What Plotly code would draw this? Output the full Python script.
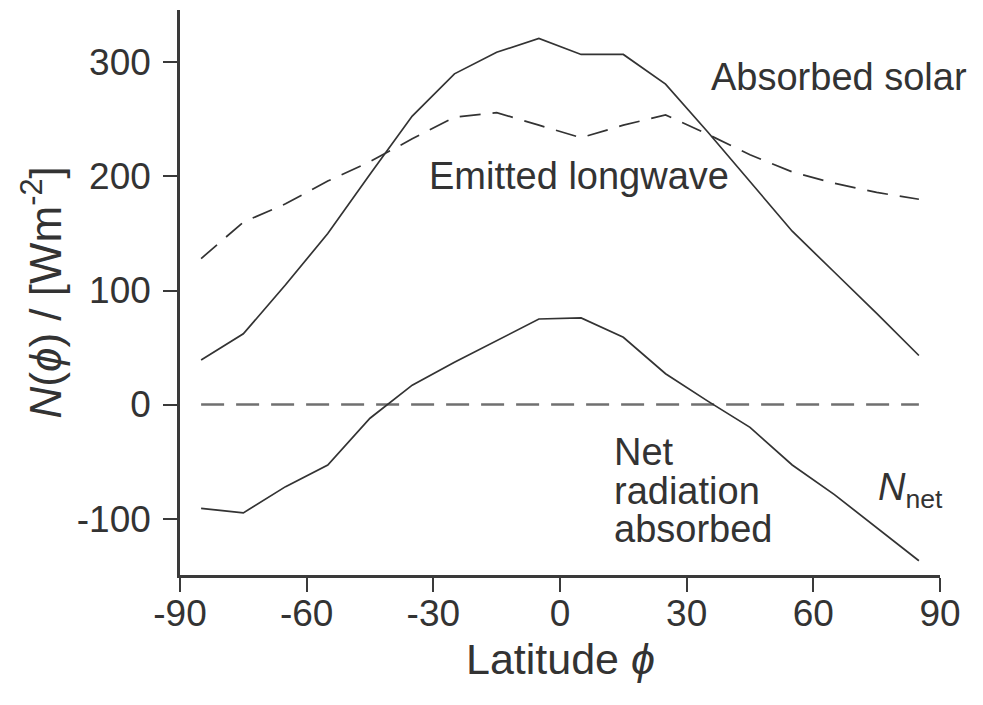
import plotly.graph_objects as go

# Latitude band centres (degrees)
latitude = [-85, -75, -65, -55, -45, -35, -25, -15, -5, 5, 15, 25, 35, 45, 55, 65, 75, 85]

# Absorbed solar radiation (W m^-2)
absorbed_solar = [39, 62, 105, 150, 202, 253, 290, 309, 321, 307, 307, 281, 239, 196, 152, 116, 80, 43]

# Emitted longwave radiation (W m^-2)
emitted_longwave = [128, 160, 176, 196, 213, 233, 252, 256, 245, 234, 245, 254, 237, 219, 204, 194, 186, 180]

# Net radiation absorbed (W m^-2)
net_radiation = [-91, -95, -72, -53, -12, 17, 37, 56, 75, 76, 59, 27, 3, -20, -53, -79, -108, -137]

# Zero reference line
zero_lat = [-85, 85]
zero_val = [0, 0]

x_tickvals = [-90, -60, -30, 0, 30, 60, 90]
x_ticktext = ["-90", "-60", "-30", "0", "30", "60", "90"]
y_tickvals = [-100, 0, 100, 200, 300]
y_ticktext = ["-100", "0", "100", "200", "300"]

FONT = "Liberation Sans, Arial, Helvetica, sans-serif"
INK = "#333333"

fig = go.Figure()

fig.add_trace(go.Scatter(x=zero_lat, y=zero_val, mode="lines",
                         line=dict(color="#707070", width=2.5, dash="23px,12px"),
                         showlegend=False, hoverinfo="skip"))
fig.add_trace(go.Scatter(x=latitude, y=emitted_longwave, mode="lines",
                         line=dict(color=INK, width=1.7, dash="21px,12px"),
                         showlegend=False))
fig.add_trace(go.Scatter(x=latitude, y=absorbed_solar, mode="lines",
                         line=dict(color=INK, width=1.7),
                         showlegend=False))
fig.add_trace(go.Scatter(x=latitude, y=net_radiation, mode="lines",
                         line=dict(color=INK, width=1.7),
                         showlegend=False))

text_font = dict(family=FONT, size=38, color=INK)

annotations = [
    dict(x=35.2, y=287, text="Absorbed solar", xanchor="left", yanchor="middle"),
    dict(x=-31.5, y=200, text="Emitted longwave", xanchor="left", yanchor="middle"),
    dict(x=12.4, y=-41.6, text="Net", xanchor="left", yanchor="middle"),
    dict(x=12.4, y=-75.7, text="radiation", xanchor="left", yanchor="middle"),
    dict(x=12.4, y=-109, text="absorbed", xanchor="left", yanchor="middle"),
    dict(x=74.8, y=-75, text="<i>N</i><sub>net</sub>", xanchor="left", yanchor="middle"),
]
for a in annotations:
    a.update(xref="x", yref="y", showarrow=False, font=text_font)

# Axis titles
annotations.append(dict(xref="paper", yref="paper", x=0.5, y=-0.149,
                        text="Latitude <i>ϕ</i>", showarrow=False,
                        xanchor="center", yanchor="middle",
                        font=dict(family=FONT, size=43, color=INK)))
annotations.append(dict(xref="paper", yref="paper", x=-0.1816, y=0.5,
                        text="<i>N</i>(<i>ϕ</i>) / [Wm<sup>-2</sup>]",
                        showarrow=False, textangle=-90,
                        xanchor="center", yanchor="middle",
                        font=dict(family=FONT, size=44, color=INK)))

fig.update_layout(
    width=983, height=705, autosize=False,
    margin=dict(l=180, r=43, t=10, b=130, pad=0),
    paper_bgcolor="white", plot_bgcolor="white",
    font=dict(family=FONT, color=INK),
    annotations=annotations,
    showlegend=False,
)

fig.update_xaxes(range=[-90, 90], tickvals=x_tickvals, ticktext=x_ticktext,
                 showgrid=False, zeroline=False, showline=True,
                 linecolor="#3a3a3a", linewidth=2.5,
                 ticks="outside", ticklen=14, tickwidth=2, tickcolor="#3a3a3a",
                 tickfont=dict(family=FONT, size=37, color=INK),
                 ticklabelstandoff=-10)
fig.update_yaxes(range=[-149.5, 346], tickvals=y_tickvals, ticktext=y_ticktext,
                 showgrid=False, zeroline=False, showline=True,
                 linecolor="#3a3a3a", linewidth=2.5,
                 ticks="outside", ticklen=14, tickwidth=2, tickcolor="#3a3a3a",
                 tickfont=dict(family=FONT, size=37, color=INK),
                 ticklabelstandoff=5)

fig.write_html("out.html")
